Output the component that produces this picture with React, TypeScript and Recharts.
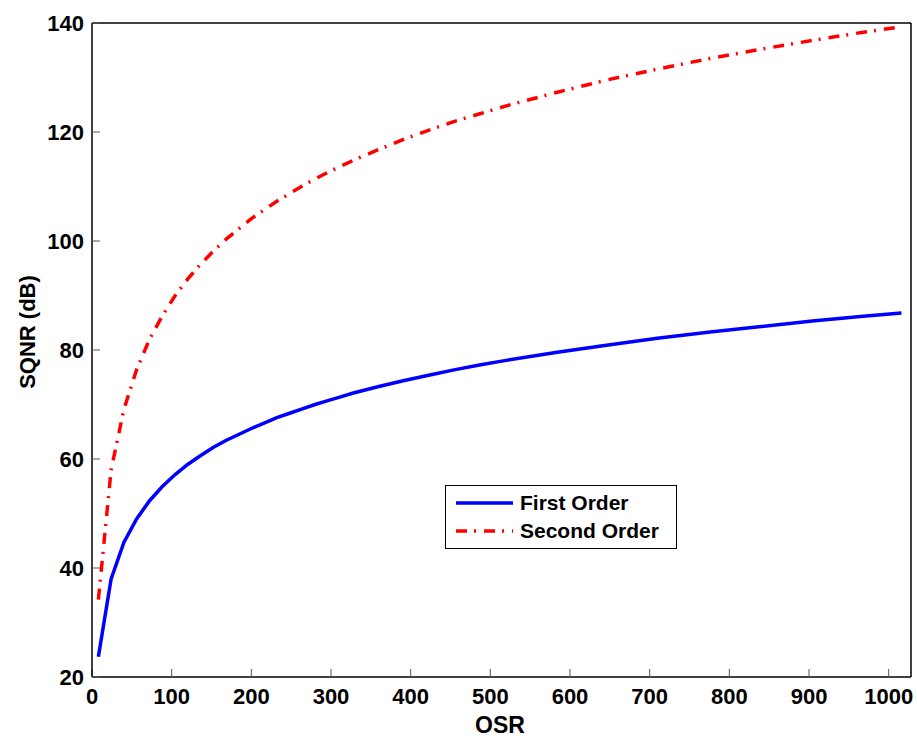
import { CartesianGrid, Label, Legend, Line, LineChart, XAxis, YAxis } from 'recharts';

// OSR sample points and SQNR (dB)
const osr = [
  8, 24, 40, 56, 72, 88, 104, 120, 136, 152, 168, 184, 200, 216, 232, 248, 264, 280, 296, 312, 328, 360, 392, 424,
  456, 488, 520, 584, 648, 712, 776, 840, 904, 968, 1016,
];
const firstOrder = [
  23.7, 38.0, 44.7, 49.0, 52.3, 54.9, 57.1, 59.0, 60.6, 62.1, 63.4, 64.5, 65.6, 66.6, 67.6, 68.4, 69.2, 70.0, 70.7,
  71.4, 72.1, 73.3, 74.4, 75.4, 76.4, 77.3, 78.1, 79.6, 80.9, 82.2, 83.3, 84.3, 85.3, 86.2, 86.8,
];
const secondOrder = [
  34.2, 58.0, 69.1, 76.4, 81.9, 86.2, 89.9, 93.0, 95.7, 98.1, 100.3, 102.2, 104.1, 105.7, 107.3, 108.7, 110.1, 111.4,
  112.6, 113.7, 114.8, 116.8, 118.7, 120.4, 122.0, 123.4, 124.8, 127.3, 129.6, 131.6, 133.5, 135.2, 136.8, 138.3,
  139.3,
];
const xTicks = [0, 100, 200, 300, 400, 500, 600, 700, 800, 900, 1000];
const yTicks = [20, 40, 60, 80, 100, 120, 140];

const data = osr.map((x, i) => ({ osr: x, first: firstOrder[i], second: secondOrder[i] }));

const FONT = '"Liberation Sans", Arial, Helvetica, sans-serif';
const tickStyle = { fontSize: 22, fontWeight: 700, fill: '#000', fontFamily: FONT };
const tickLineStyle = { stroke: '#555', strokeWidth: 1 };
const axisLineStyle = { stroke: '#000', strokeWidth: 1.5 };

const legendItems = [
  { label: 'First Order', color: '#0000ff', dash: undefined },
  { label: 'Second Order', color: '#ff0000', dash: '11 7 2 8' },
];

function MatlabLegend() {
  return (
    <div
      style={{
        border: '1.5px solid #000',
        background: '#fff',
        padding: '3px 8px 3px 10px',
        fontFamily: FONT,
        fontWeight: 700,
        fontSize: 21,
        color: '#000',
        lineHeight: '28px',
      }}
    >
      {legendItems.map((item) => (
        <div key={item.label} style={{ display: 'flex', alignItems: 'center' }}>
          <svg width={58} height={10} style={{ marginRight: 6 }}>
            <line x1={0} y1={5} x2={57} y2={5} stroke={item.color} strokeWidth={3.5} strokeDasharray={item.dash} />
          </svg>
          <span>{item.label}</span>
        </div>
      ))}
    </div>
  );
}

export default function App() {
  return (
    <div style={{ width: 917, height: 740, background: '#fff' }}>
      <style>{'body{margin:0}'}</style>
      <LineChart width={917} height={740} data={data} margin={{ top: 22, right: 5, bottom: 23, left: 32 }}>
        <CartesianGrid stroke="none" />
        <XAxis
          xAxisId="bottom"
          dataKey="osr"
          type="number"
          domain={[0, 1028]}
          allowDataOverflow
          ticks={xTicks}
          interval={0}
          height={40}
          tickSize={-8}
          tickMargin={19}
          tick={tickStyle}
          tickLine={tickLineStyle}
          axisLine={axisLineStyle}
        >
          <Label
            content={() => (
              <text x={500} y={733} textAnchor="middle" style={{ ...tickStyle, fontSize: 23 }}>
                OSR
              </text>
            )}
          />
        </XAxis>
        <XAxis
          xAxisId="top"
          orientation="top"
          type="number"
          domain={[0, 1028]}
          allowDataOverflow
          ticks={xTicks}
          interval={0}
          height={1}
          tickSize={-8}
          tick={false}
          tickLine={tickLineStyle}
          axisLine={axisLineStyle}
        />
        <YAxis
          yAxisId="left"
          type="number"
          domain={[20, 140]}
          allowDataOverflow
          ticks={yTicks}
          interval={0}
          width={60}
          tickSize={-8}
          tickMargin={16}
          tick={tickStyle}
          tickLine={tickLineStyle}
          axisLine={axisLineStyle}
        >
          <Label
            content={() => (
              <text transform="translate(35,332) rotate(-90)" x={0} y={0} textAnchor="middle" style={tickStyle}>
                SQNR (dB)
              </text>
            )}
          />
        </YAxis>
        <YAxis
          yAxisId="right"
          orientation="right"
          type="number"
          domain={[20, 140]}
          allowDataOverflow
          ticks={yTicks}
          interval={0}
          width={1}
          tickSize={-8}
          tick={false}
          tickLine={tickLineStyle}
          axisLine={axisLineStyle}
        />
        <Legend
          layout="vertical"
          align="center"
          verticalAlign="middle"
          content={() => <MatlabLegend />}
          wrapperStyle={{ left: 445, top: 485, width: 232 }}
        />
        <Line
          xAxisId="bottom"
          yAxisId="left"
          type="linear"
          dataKey="first"
          name="First Order"
          stroke="#0000ff"
          strokeWidth={3.5}
          dot={false}
          activeDot={false}
          isAnimationActive={false}
        />
        <Line
          xAxisId="bottom"
          yAxisId="left"
          type="linear"
          dataKey="second"
          name="Second Order"
          stroke="#ff0000"
          strokeWidth={3.5}
          strokeDasharray="11 7 2 8"
          dot={false}
          activeDot={false}
          isAnimationActive={false}
        />
      </LineChart>
    </div>
  );
}
